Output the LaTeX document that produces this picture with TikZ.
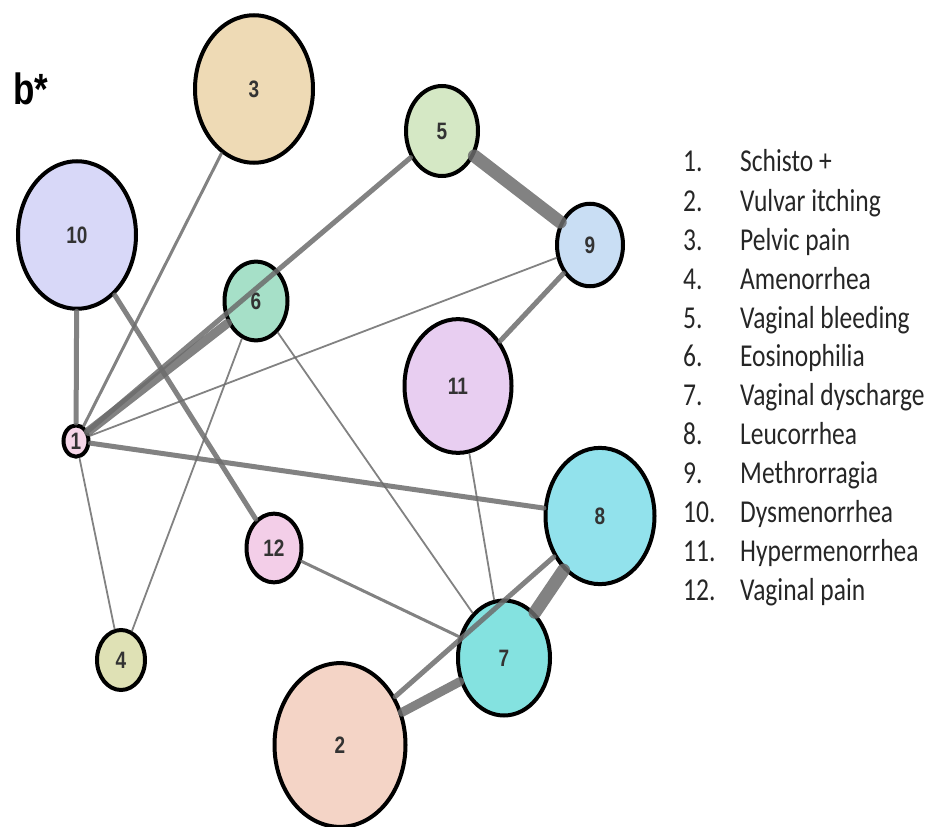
\documentclass[tikz,border=0pt]{standalone}
\usepackage{fontspec}
\usepackage{xcolor}
\usepackage{tikz}
\usetikzlibrary{positioning}
\newfontfamily\legendfont{Carlito}
\newfontfamily\labelfont{Liberation Sans}
\definecolor{edgegray}{RGB}{108,108,108}
\definecolor{fillA}{RGB}{246,214,232}
\definecolor{fillB}{RGB}{244,212,198}
\definecolor{fillC}{RGB}{238,218,181}
\definecolor{fillD}{RGB}{223,225,181}
\definecolor{fillE}{RGB}{213,232,197}
\definecolor{fillF}{RGB}{166,224,200}
\definecolor{fillG}{RGB}{132,226,224}
\definecolor{fillH}{RGB}{146,226,236}
\definecolor{fillI}{RGB}{201,222,244}
\definecolor{fillJ}{RGB}{216,216,248}
\definecolor{fillK}{RGB}{232,206,241}
\definecolor{fillL}{RGB}{243,206,232}
\tikzstyle{symptom} = [circle, draw=black, line width=4pt, inner sep=0pt, text=black!80, font=\labelfont\bfseries\fontsize{19}{19}\selectfont]
\tikzstyle{link} = [draw=edgegray, opacity=0.85, line cap=round]
\tikzstyle{faintlink} = [link, line width=1.8pt]
\tikzstyle{lightlink} = [link, line width=3pt]
\tikzstyle{midlink} = [link, line width=5pt]
\tikzstyle{stronglink} = [link, line width=9pt]
\tikzstyle{heavylink} = [link, line width=13pt]
\tikzstyle{legenditem} = [anchor=base west, inner sep=0pt, text=black!85, font=\legendfont\fontsize{25.5}{25.5}\selectfont]

\begin{document}
\begin{tikzpicture}[x=1pt, y=-0.8pt, yscale=1.25, transform shape]
    \useasboundingbox (0,0) rectangle (929,827);
    \node (tag) [anchor=base west, inner sep=0pt, font=\labelfont\bfseries\fontsize{35}{35}\selectfont] at (13,105) {b*};

    % symptoms
    \node (n1) [symptom, minimum size=25pt, fill=fillA] at (76,441) {1};
    \node (n2) [symptom, minimum size=131pt, fill=fillB] at (340,745) {2};
    \node (n3) [symptom, minimum size=118pt, fill=fillC] at (254,89) {3};
    \node (n4) [symptom, minimum size=48pt, fill=fillD] at (121,660) {4};
    \node (n5) [symptom, minimum size=72pt, fill=fillE] at (442,131) {5};
    \node (n6) [symptom, minimum size=63pt, fill=fillF] at (256,301) {6};
    \node (n7) [symptom, minimum size=92pt, fill=fillG] at (504,658) {7};
    \node (n8) [symptom, minimum size=109pt, fill=fillH] at (600,516) {8};
    \node (n9) [symptom, minimum size=66pt, fill=fillI] at (590,245) {9};
    \node (n10) [symptom, minimum size=118pt, fill=fillJ] at (77,235) {10};
    \node (n11) [symptom, minimum size=107pt, fill=fillK] at (458,386) {11};
    \node (n12) [symptom, minimum size=55pt, fill=fillL] at (274,548) {12};

    % links
    \draw [midlink] (n1) -- (n10);
    \draw [lightlink] (n1) -- (n3);
    \draw [stronglink] (n1) -- (n6);
    \draw [midlink] (n1) -- (n5);
    \draw [faintlink] (n1) -- (n9);
    \draw [midlink] (n1) -- (n8);
    \draw [faintlink] (n1) -- (n4);
    \draw [faintlink] (n6) -- (n4);
    \draw [faintlink] (n6) -- (n7);
    \draw [midlink] (n10) -- (n12);
    \draw [heavylink] (n5) -- (n9);
    \draw [midlink] (n9) -- (n11);
    \draw [faintlink] (n11) -- (n7);
    \draw [lightlink] (n12) -- (n7);
    \draw [heavylink] (n8) -- (n7);
    \draw [midlink] (n2) -- (n8);
    \draw [stronglink] (n2) -- (n7);

    % legend
    \node (lg1) [legenditem] at (683,172) {\makebox[57pt][l]{1.}Schisto +};
    \node (lg2) [legenditem] at (683,211) {\makebox[57pt][l]{2.}Vulvar itching};
    \node (lg3) [legenditem] at (683,250) {\makebox[57pt][l]{3.}Pelvic pain};
    \node (lg4) [legenditem] at (683,289) {\makebox[57pt][l]{4.}Amenorrhea};
    \node (lg5) [legenditem] at (683,328) {\makebox[57pt][l]{5.}Vaginal bleeding};
    \node (lg6) [legenditem] at (683,366) {\makebox[57pt][l]{6.}Eosinophilia};
    \node (lg7) [legenditem] at (683,405) {\makebox[57pt][l]{7.}Vaginal dyscharge};
    \node (lg8) [legenditem] at (683,444) {\makebox[57pt][l]{8.}Leucorrhea};
    \node (lg9) [legenditem] at (683,483) {\makebox[57pt][l]{9.}Methrorragia};
    \node (lg10) [legenditem] at (683,522) {\makebox[57pt][l]{10.}Dysmenorrhea};
    \node (lg11) [legenditem] at (683,561) {\makebox[57pt][l]{11.}Hypermenorrhea};
    \node (lg12) [legenditem] at (683,600) {\makebox[57pt][l]{12.}Vaginal pain};
\end{tikzpicture}
\end{document}
